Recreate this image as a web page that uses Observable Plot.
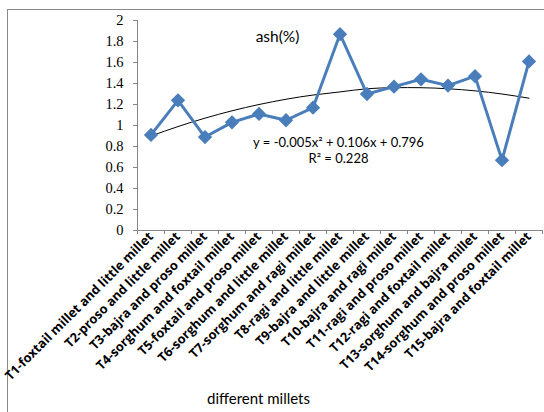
<!DOCTYPE html>
<html><head><meta charset="utf-8">
<script src="https://cdn.jsdelivr.net/npm/d3@7"></script>
<script src="https://cdn.jsdelivr.net/npm/@observablehq/plot@0.6"></script>
<style>
body{margin:0;background:#fff;}
#wrap{position:relative;width:544px;height:412px;overflow:hidden;background:#fff;}
#border{position:absolute;left:7px;top:9px;width:700px;height:600px;border-left:1px solid #8a8a8a;border-top:1px solid #8a8a8a;}
#chart{position:absolute;left:0;top:0;}
</style></head><body>
<div id="wrap"><div id="border"></div><div id="chart"></div></div>
<script>
const categories = [
  "T1-foxtail millet and little millet",
  "T2-proso and little millet",
  "T3-bajra and proso millet",
  "T4-sorghum and foxtail millet",
  "T5-foxtail and proso millet",
  "T6-sorghum and little millet",
  "T7-sorghum and ragi millet",
  "T8-ragi and little millet",
  "T9-bajra and little millet",
  "T10-bajra and ragi millet",
  "T11-ragi and proso millet",
  "T12-ragi and foxtail millet",
  "T13-sorghum and bajra millet",
  "T14-sorghum and proso millet",
  "T15-bajra and foxtail millet"
];
const ashValues = [0.91, 1.24, 0.89, 1.03, 1.11, 1.05, 1.17, 1.87, 1.30, 1.37, 1.44, 1.38, 1.47, 0.67, 1.61];
const trendValues = [0.90, 0.99, 1.07, 1.14, 1.20, 1.25, 1.29, 1.32, 1.35, 1.36, 1.36, 1.35, 1.33, 1.30, 1.26];
const yTicks = [0, 0.2, 0.4, 0.6, 0.8, 1, 1.2, 1.4, 1.6, 1.8, 2];
const yTickLabels = ["0", "0.2", "0.4", "0.6", "0.8", "1", "1.2", "1.4", "1.6", "1.8", "2"];
const titleText = "ash(%)";
const xTitle = "different millets";
const equationLines = ["y = -0.005x\u00B2 + 0.106x + 0.796", "R\u00B2 = 0.228"];

const idx = categories.map((c, i) => i + 1);
const boundaries = [0, ...idx].map(i => i + 0.5);
const xDomain = [boundaries[0], boundaries[boundaries.length - 1]];
const yDomain = [yTicks[0], yTicks[yTicks.length - 1]];
const pts = categories.map((c, i) => ({i: i + 1, name: c, ash: ashValues[i], trend: trendValues[i]}));
const axisGray = "#868686";
const blue = "#4A7EBB";

const chart = Plot.plot({
  width: 544,
  height: 412,
  marginLeft: 137,
  marginRight: 2,
  marginTop: 20,
  marginBottom: 182,
  style: {background: "transparent", overflow: "visible"},
  x: {type: "linear", domain: xDomain},
  y: {domain: yDomain},
  marks: [
    Plot.ruleY([yDomain[0]], {stroke: axisGray}),
    Plot.ruleX([xDomain[0]], {stroke: axisGray}),
    Plot.axisY({ticks: yTicks, tickSize: 4, text: null, stroke: axisGray}),
    Plot.axisY({ticks: yTicks, tickSize: 0, tickPadding: 14, tickFormat: d => yTickLabels[yTicks.indexOf(d)], fontSize: 14.5, fontFamily: "Liberation Serif", color: "black", label: null}),
    Plot.axisX({ticks: boundaries, tickSize: 4, text: null, stroke: axisGray, label: null}),
    Plot.axisX({ticks: idx, tickSize: 0, tickPadding: 4, tickRotate: -45, tickFormat: d => categories[d - 1], fontSize: 12.8, fontWeight: "bold", fontFamily: "Open Sans", color: "black", label: null}),
    Plot.line(pts, {x: "i", y: "trend", stroke: "black", strokeWidth: 1, curve: "natural"}),
    Plot.line(pts, {x: "i", y: "ash", stroke: blue, strokeWidth: 3}),
    Plot.dot(pts, {x: "i", y: "ash", symbol: "diamond2", r: 5.5, fill: blue, stroke: blue}),
    Plot.text([titleText], {frameAnchor: "top-left", dx: 140, dy: 10, textAnchor: "middle", fontSize: 15.5, fontFamily: "Lato", fill: "black"}),
    Plot.text([equationLines[0]], {frameAnchor: "top-left", dx: 201, dy: 117, textAnchor: "middle", fontSize: 13, fontFamily: "Lato", fill: "black"}),
    Plot.text([equationLines[1]], {frameAnchor: "top-left", dx: 201, dy: 133, textAnchor: "middle", fontSize: 13, fontFamily: "Lato", fill: "black"}),
    Plot.text([xTitle], {frameAnchor: "bottom-left", dx: 121, dy: 173, textAnchor: "middle", fontSize: 15, fontFamily: "Lato", fill: "black"})
  ]
});
document.getElementById("chart").appendChild(chart);
</script>
</body></html>
